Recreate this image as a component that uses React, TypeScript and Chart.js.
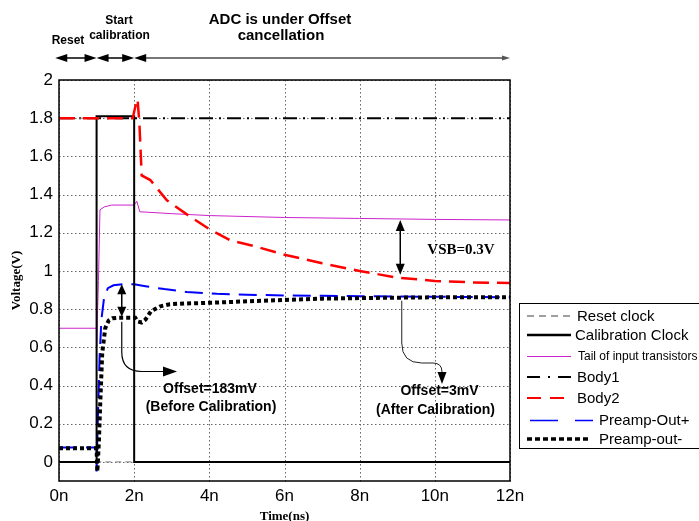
import React, { useEffect, useRef } from 'react';
import { Chart, registerables } from 'chart.js';

Chart.register(...registerables);

// ---------- data ----------
const xTickValues = [0, 2, 4, 6, 8, 10, 12];
const xTickLabels = ['0n', '2n', '4n', '6n', '8n', '10n', '12n'];
const yTickValues = [0, 0.2, 0.4, 0.6, 0.8, 1, 1.2, 1.4, 1.6, 1.8, 2];
const yTickLabels = ['0', '0.2', '0.4', '0.6', '0.8', '1', '1.2', '1.4', '1.6', '1.8', '2'];

const seriesNames = [
  'Reset clock',
  'Calibration Clock',
  'Tail of input transistors',
  'Body1',
  'Body2',
  'Preamp-Out+',
  'Preamp-out-',
];

const resetX = [0, 1, 1, 12];
const resetY = [1.8, 1.8, 0, 0];

const calX = [0, 1, 1, 2, 2, 12];
const calY = [0, 0, 1.81, 1.81, 0, 0];

const tailX = [0, 1, 1, 1.05, 1.09, 1.2, 1.4, 2.0, 2.07, 2.15, 3, 4, 6, 8, 10, 12];
const tailY = [0.7, 0.7, 0.6, 0.95, 1.32, 1.335, 1.345, 1.345, 1.365, 1.31, 1.3, 1.29, 1.28, 1.275, 1.27, 1.267];

const body1X = [0, 12];
const body1Y = [1.8, 1.8];

const body2X = [0, 1.96, 2.03, 2.09, 2.14, 2.2, 2.43, 2.87, 3.49, 4.03, 4.56, 5.2, 6, 7, 8, 9, 10, 11, 12];
const body2Y = [1.8, 1.8, 1.86, 1.9, 1.77, 1.5, 1.476, 1.37, 1.284, 1.215, 1.16, 1.13, 1.085, 1.04, 1.0, 0.965, 0.948, 0.94, 0.937];

const preampPX = [0, 1, 1, 1.03, 1.08, 1.13, 1.2, 1.3, 1.45, 1.7, 2.0, 2.3, 2.8, 3.4, 4.2, 5, 6, 7, 8, 9, 10, 12];
const preampPY = [0.075, 0.075, -0.05, 0.2, 0.55, 0.75, 0.86, 0.91, 0.925, 0.93, 0.93, 0.92, 0.905, 0.89, 0.88, 0.875, 0.872, 0.87, 0.868, 0.866, 0.865, 0.862];

const preampNX = [0, 1, 1.02, 1.06, 1.1, 1.15, 1.23, 1.32, 1.42, 1.6, 2.03, 2.1, 2.2, 2.3, 2.45, 2.7, 2.95, 3.4, 3.8, 4.9, 6, 7, 8, 9, 10, 12];
const preampNY = [0.072, 0.072, -0.05, 0.1, 0.32, 0.57, 0.7, 0.74, 0.752, 0.755, 0.755, 0.735, 0.73, 0.745, 0.79, 0.815, 0.826, 0.83, 0.832, 0.84, 0.848, 0.855, 0.858, 0.86, 0.862, 0.862];

// phase annotation boundaries (ns)
const phaseBounds = [-0.1, 1, 2, 12];
// annotation anchors (data units)
const offsetBeforeX = 1.67;
const offsetBeforeTop = 0.93;
const offsetBeforeBottom = 0.76;
const offsetAfterX = 9.12;
const offsetAfterY = 0.86;
const vsbX = 9.08;
const vsbTop = 1.267;
const vsbBottom = 0.98;

const SANS = "'Liberation Sans', Arial, sans-serif";
const SERIF = "'Liberation Serif', 'Times New Roman', serif";

const pts = (xs: number[], ys: number[]) => xs.map((x, i) => ({ x, y: ys[i] }));

function head(ctx: CanvasRenderingContext2D, tx: number, ty: number, dx: number, dy: number, len: number, hw: number) {
  const bx = tx - dx * len;
  const by = ty - dy * len;
  ctx.beginPath();
  ctx.moveTo(tx, ty);
  ctx.lineTo(bx - dy * hw, by + dx * hw);
  ctx.lineTo(bx + dy * hw, by - dx * hw);
  ctx.closePath();
  ctx.fill();
}

const legendStyles = [
  { color: '#808080', width: 1.5, dash: [7, 5], x0: 527, x1: 571, tx: 577, font: 15 },
  { color: '#000000', width: 2.5, dash: [], x0: 527, x1: 571, tx: 575, font: 15 },
  { color: '#cc22cc', width: 1, dash: [], x0: 527, x1: 571, tx: 578, font: 12 },
  { color: '#000000', width: 2, dash: [13, 8, 2, 8], x0: 527, x1: 571, tx: 577, font: 15 },
  { color: '#ff0000', width: 2, dash: [14, 9], x0: 527, x1: 569, tx: 577, font: 15 },
  { color: '#0000ff', width: 1.5, dash: [28, 17], x0: 530, x1: 593, tx: 599, font: 15 },
  { color: '#000000', width: 3.5, dash: [5, 3], x0: 527, x1: 591, tx: 599, font: 15 },
];
const legendRowY = [316, 335, 356.5, 377, 398, 420.5, 439];

function drawGrid(chart: any) {
  const { ctx, chartArea: a } = chart;
  const xs = chart.scales.x;
  const ys = chart.scales.y;
  ctx.save();
  ctx.fillStyle = '#666';
  // dotted lines built from small squares at the library's tick positions
  xTickValues.forEach((v) => {
    const x = Math.round(xs.getPixelForValue(v));
    for (let y = Math.ceil(a.top); y < a.bottom; y += 4) ctx.fillRect(x, y, 1, 1.5);
  });
  yTickValues.forEach((v) => {
    const y = Math.round(ys.getPixelForValue(v));
    for (let x = Math.ceil(a.left); x < a.right; x += 4) ctx.fillRect(x, y, 1.5, 1);
  });
  ctx.restore();
}

const annotPlugin = {
  id: 'annot',
  beforeDatasetsDraw(chart: any) {
    drawGrid(chart);
  },
  afterDatasetsDraw(chart: any) {
    const { ctx, chartArea: a } = chart;
    ctx.save();
    ctx.strokeStyle = '#000';
    ctx.lineWidth = 1.5;
    ctx.setLineDash([]);
    ctx.strokeRect(a.left, a.top, a.right - a.left, a.bottom - a.top);
    ctx.restore();
  },
  afterDraw(chart: any) {
    const { ctx } = chart;
    const xs = chart.scales.x;
    const ys = chart.scales.y;
    const px = (v: number) => xs.getPixelForValue(v);
    const py = (v: number) => ys.getPixelForValue(v);
    ctx.save();
    ctx.setLineDash([]);

    // ---- top phase arrows ----
    const ay = 58;
    const b = phaseBounds.map(px);
    ctx.fillStyle = '#000';
    ctx.strokeStyle = '#000';
    ctx.lineWidth = 1.5;
    for (let i = 0; i < 2; i++) {
      ctx.beginPath();
      ctx.moveTo(b[i] + 6, ay);
      ctx.lineTo(b[i + 1] - 6, ay);
      ctx.stroke();
      head(ctx, b[i], ay, -1, 0, 12, 4);
      head(ctx, b[i + 1], ay, 1, 0, 12, 4);
    }
    ctx.strokeStyle = '#777';
    ctx.lineWidth = 2;
    ctx.beginPath();
    ctx.moveTo(b[2] + 8, ay);
    ctx.lineTo(b[3] - 4, ay);
    ctx.stroke();
    head(ctx, b[2], ay, -1, 0, 12, 4);
    ctx.fillStyle = '#555';
    head(ctx, b[3], ay, 1, 0, 8, 2.5);

    // ---- top texts ----
    ctx.fillStyle = '#000';
    ctx.textAlign = 'center';
    ctx.textBaseline = 'middle';
    ctx.font = `bold 12px ${SANS}`;
    ctx.fillText('Reset', 68, 41);
    ctx.fillText('Start', 119, 21);
    ctx.fillText('calibration', 119.5, 35.5);
    ctx.font = `bold 15px ${SANS}`;
    ctx.fillText('ADC is under Offset', 280, 19.5);
    ctx.fillText('cancellation', 281, 36);

    // ---- offset before calibration ----
    ctx.strokeStyle = '#000';
    ctx.fillStyle = '#000';
    ctx.lineWidth = 1.5;
    const ox = px(offsetBeforeX);
    const ot = py(offsetBeforeTop);
    const ob = py(offsetBeforeBottom);
    ctx.beginPath();
    ctx.moveTo(ox, ot + 6);
    ctx.lineTo(ox, ob - 6);
    ctx.stroke();
    head(ctx, ox, ot, 0, -1, 10, 4.5);
    head(ctx, ox, ob, 0, 1, 10, 4.5);
    ctx.lineWidth = 1.2;
    ctx.beginPath();
    ctx.moveTo(ox, ob + 5);
    ctx.lineTo(ox, 352);
    ctx.quadraticCurveTo(ox, 371.5, ox + 20, 371.5);
    ctx.lineTo(166, 371.5);
    ctx.stroke();
    head(ctx, 177, 371.5, 1, 0, 14, 5);

    ctx.font = `bold 14px ${SANS}`;
    ctx.fillText('Offset=183mV', 210, 389);
    ctx.fillText('(Before Calibration)', 211, 407);

    // ---- VSB arrow ----
    ctx.lineWidth = 1.5;
    const vx = px(vsbX);
    const vt = py(vsbTop);
    const vb = py(vsbBottom);
    ctx.beginPath();
    ctx.moveTo(vx, vt + 6);
    ctx.lineTo(vx, vb - 6);
    ctx.stroke();
    head(ctx, vx, vt, 0, -1, 11, 4.5);
    head(ctx, vx, vb, 0, 1, 11, 4.5);
    ctx.font = `bold 15px ${SERIF}`;
    ctx.fillText('VSB=0.3V', 461, 250);

    // ---- offset after calibration ----
    ctx.lineWidth = 1;
    ctx.strokeStyle = '#222';
    const ax = px(offsetAfterX);
    const aY = py(offsetAfterY);
    ctx.beginPath();
    ctx.moveTo(ax, aY + 3);
    ctx.lineTo(ax, 343);
    ctx.quadraticCurveTo(ax, 363, ax + 20, 363);
    ctx.lineTo(433, 363);
    ctx.quadraticCurveTo(442, 363, 442, 372);
    ctx.stroke();
    head(ctx, 442, 384, 0, 1, 12, 4.5);
    ctx.font = `bold 14px ${SANS}`;
    ctx.fillText('Offset=3mV', 439.5, 391);
    ctx.fillText('(After Calibration)', 435.5, 410);

    // ---- legend ----
    ctx.fillStyle = '#fff';
    ctx.fillRect(519.5, 303.5, 200, 145);
    ctx.strokeStyle = '#000';
    ctx.lineWidth = 1;
    ctx.setLineDash([]);
    ctx.strokeRect(519.5, 303.5, 200, 145);
    ctx.textAlign = 'left';
    seriesNames.forEach((name, i) => {
      const s = legendStyles[i];
      const y = legendRowY[i];
      ctx.strokeStyle = s.color;
      ctx.lineWidth = s.width;
      ctx.setLineDash(s.dash);
      ctx.beginPath();
      ctx.moveTo(s.x0, y);
      ctx.lineTo(s.x1, y);
      ctx.stroke();
      ctx.setLineDash([]);
      ctx.fillStyle = '#000';
      ctx.font = `${s.font}px ${SANS}`;
      ctx.fillText(name, s.tx, y + 0.5);
    });

    // ---- x axis title ----
    ctx.textAlign = 'center';
    ctx.font = `bold 13px ${SERIF}`;
    ctx.fillText('Time(ns)', (chart.chartArea.left + chart.chartArea.right) / 2, 517);
    ctx.restore();
  },
};

export default function App() {
  const ref = useRef<HTMLCanvasElement | null>(null);
  useEffect(() => {
    document.body.style.margin = '0';
    const canvas = ref.current;
    if (!canvas) return;
    const seriesData = [
      pts(resetX, resetY),
      pts(calX, calY),
      pts(tailX, tailY),
      pts(body1X, body1Y),
      pts(body2X, body2Y),
      pts(preampPX, preampPY),
      pts(preampNX, preampNY),
    ];
    const styles = [
      { borderColor: '#808080', borderWidth: 1, borderDash: [6, 4], order: 5 },
      { borderColor: '#000000', borderWidth: 2, borderDash: [], order: 2 },
      { borderColor: '#cc22cc', borderWidth: 1, borderDash: [], order: 4 },
      { borderColor: '#000000', borderWidth: 2, borderDash: [14, 6, 2, 6], order: 6 },
      { borderColor: '#ff0000', borderWidth: 2.5, borderDash: [16, 8], order: 0 },
      { borderColor: '#0000ff', borderWidth: 2, borderDash: [18, 9], order: 3 },
      { borderColor: '#000000', borderWidth: 4, borderDash: [4, 3], order: 1 },
    ];
    const chart = new Chart(canvas, {
      type: 'line',
      data: {
        datasets: seriesNames.map((label, i) => ({
          label,
          data: seriesData[i],
          ...styles[i],
          pointRadius: 0,
          tension: 0,
          fill: false,
        })),
      },
      options: {
        animation: false,
        responsive: false,
        devicePixelRatio: 1,
        layout: { padding: { left: 0, right: 189, top: 80, bottom: 0 } },
        plugins: { legend: { display: false }, tooltip: { enabled: false } },
        scales: {
          x: {
            type: 'linear',
            min: 0,
            max: 12,
            afterBuildTicks: (s: any) => {
              s.ticks = xTickValues.map((v) => ({ value: v }));
            },
            afterFit: (s: any) => {
              s.height = 40;
            },
            ticks: {
              callback: (v: any) => xTickLabels[xTickValues.indexOf(Number(v))] ?? '',
              color: '#000',
              font: { family: SANS, size: 17 },
              padding: 5,
              maxRotation: 0,
              autoSkip: false,
            },
            grid: { display: false, drawTicks: false },
            border: { display: false },
          },
          y: {
            type: 'linear',
            min: -0.1,
            max: 2,
            afterBuildTicks: (s: any) => {
              s.ticks = yTickValues.map((v) => ({ value: v }));
            },
            afterFit: (s: any) => {
              s.width = 59;
            },
            ticks: {
              callback: (v: any) => {
                const i = yTickValues.findIndex((t) => Math.abs(t - Number(v)) < 1e-6);
                return i >= 0 ? yTickLabels[i] : '';
              },
              color: '#000',
              font: { family: SANS, size: 17 },
              padding: 6,
              autoSkip: false,
            },
            title: {
              display: true,
              text: 'Voltage(V)',
              color: '#000',
              font: { family: SERIF, size: 13, weight: 'bold' },
              padding: { top: 9, bottom: 0 },
            },
            grid: { display: false, drawTicks: false },
            border: { display: false },
          },
        },
      },
      plugins: [annotPlugin],
    } as any);
    return () => chart.destroy();
  }, []);
  return (
    <div style={{ width: 699, height: 521, position: 'relative', background: '#fff' }}>
      <canvas ref={ref} width={699} height={521} style={{ display: 'block' }} />
    </div>
  );
}
